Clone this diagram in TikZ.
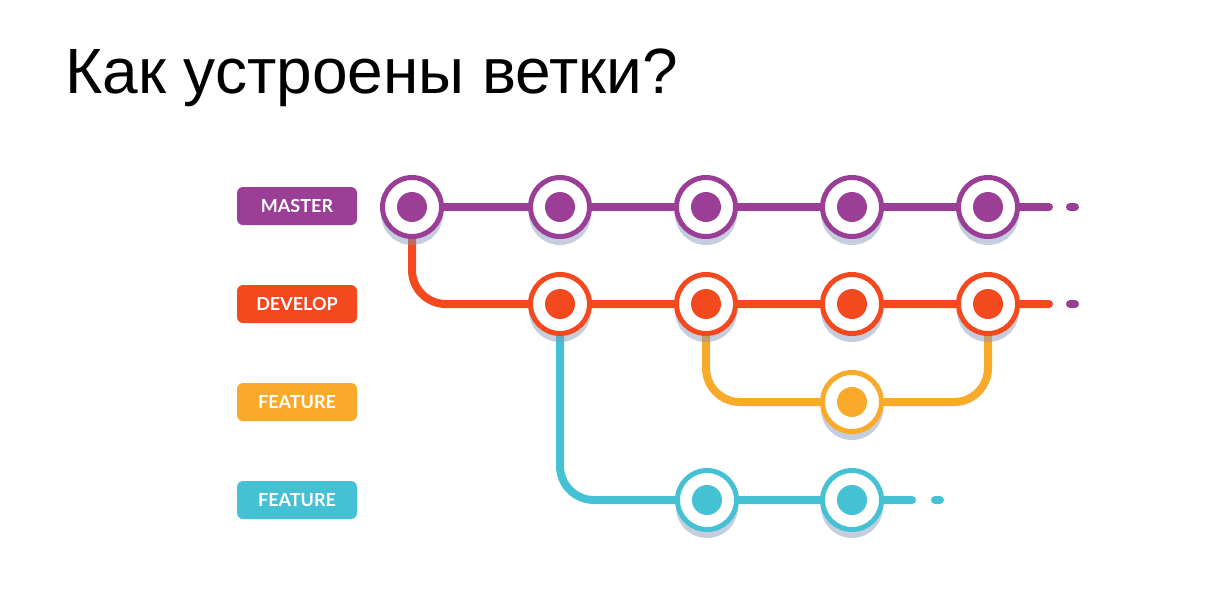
\documentclass[tikz,border=0pt]{standalone}
\usepackage{fontspec}
\setmainfont{Liberation Sans}
\newfontfamily\lato{Lato}
\usetikzlibrary{backgrounds}
\definecolor{cpurple}{HTML}{9A3E96}
\definecolor{corange}{HTML}{F4481F}
\definecolor{cyellow}{HTML}{F9AA2A}
\definecolor{cblue}{HTML}{45C1D4}
\definecolor{cshadow}{HTML}{7F93B8}
\pgfdeclarelayer{bg}
\pgfdeclarelayer{shade}
\pgfsetlayers{bg,shade,main}
\tikzset{
  commit/.style={circle, minimum size=59pt, inner sep=0pt, line width=5pt, draw=#1, fill=white,
    path picture={\fill[#1] (path picture bounding box.center) circle (15pt);}},
  branch/.style={line width=8pt, line cap=round, draw=#1},
  tag/.style={rectangle, rounded corners=6pt, fill=#1, text=white, minimum width=120pt, minimum height=38pt,
    inner sep=0pt, font=\lato\bfseries\fontsize{18}{18}\selectfont},
  title/.style={anchor=base west, inner sep=0pt, font=\fontsize{64}{64}\selectfont}
}
\begin{document}
\begin{tikzpicture}[x=1pt,y=-1pt]
\useasboundingbox (0,0) rectangle (1210,592);
\node[title] (t) at (65,93) {Как устроены ветки?};
% labels
\node[tag=cpurple] (lm) at (297,206) {MASTER};
\node[tag=corange] (ld) at (297,304) {DEVELOP};
\node[tag=cyellow] (lf) at (297,402) {FEATURE};
\node[tag=cblue] (lb) at (297,500) {FEATURE};
% commits
\node[commit=cpurple] (m1) at (412,207) {};
\node[commit=cpurple] (m2) at (560,207) {};
\node[commit=cpurple] (m3) at (706,207) {};
\node[commit=cpurple] (m4) at (852,207) {};
\node[commit=cpurple] (m5) at (988,207) {};
\node[commit=corange] (d1) at (560,304) {};
\node[commit=corange] (d2) at (706,304) {};
\node[commit=corange] (d3) at (852,304) {};
\node[commit=corange] (d4) at (988,304) {};
\node[commit=cyellow] (f1) at (852,402) {};
\node[commit=cblue] (b1) at (707,500) {};
\node[commit=cblue] (b2) at (852,500) {};
\coordinate (mend) at (1049,207);
\coordinate (mdA) at (1070,207);
\coordinate (mdB) at (1075,207);
\coordinate (dend) at (1049,304);
\coordinate (ddA) at (1070,304);
\coordinate (ddB) at (1075,304);
\coordinate (bend) at (912,500);
\coordinate (bdA) at (935,500);
\coordinate (bdB) at (940,500);
\begin{pgfonlayer}{bg}
  \draw[branch=cpurple] (m1.center) -- (m5.center) -- (mend);
  \draw[branch=cpurple] (mdA) -- (mdB);
  \draw[branch=corange, rounded corners=34pt] (m1.center) |- (d1.center) -- (d4.center) -- (dend);
  \draw[branch=cpurple] (ddA) -- (ddB);
  \draw[branch=cyellow, rounded corners=34pt] (d2.center) |- (f1.center) -| (d4.center);
  \draw[branch=cblue, rounded corners=34pt] (d1.center) |- (b1.center) -- (b2.center) -- (bend);
  \draw[branch=cblue] (bdA) -- (bdB);
\end{pgfonlayer}
\begin{pgfonlayer}{shade}
  \foreach \n in {m1,m2,m3,m4,m5,d1,d2,d3,d4,f1,b1,b2}
    \fill[cshadow, opacity=0.45] ([yshift=-7pt]\n.center) circle (31pt);
\end{pgfonlayer}
\end{tikzpicture}
\end{document}
